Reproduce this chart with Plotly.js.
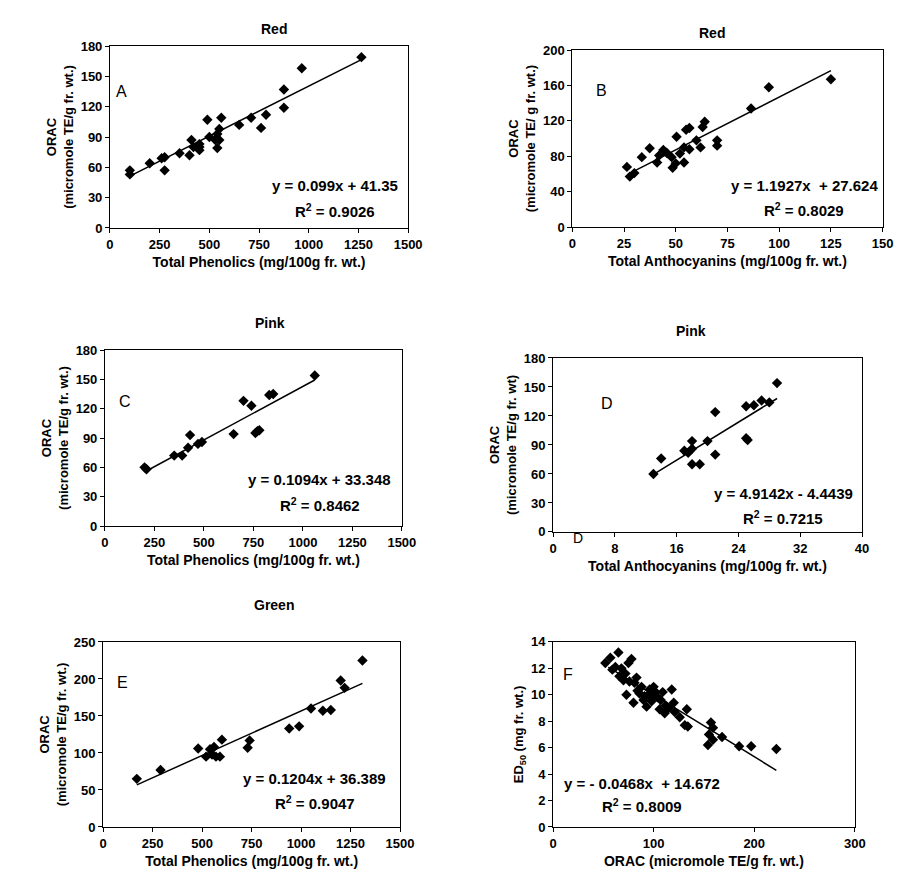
<!DOCTYPE html><html><head><script src="https://cdn.plot.ly/plotly-3.0.1.min.js"></script></head><body style="margin:0"><div id="g" style="width:897px;height:894px"></div><script>
const aX=[100,100,200,260,275,275,350,400,410,420,450,450,450,490,500,530,540,550,540,560,550,650,710,760,785,875,875,965,1265];
const aY=[57,53,64,69,70,57,74,72,87,80,83,80,77,107,90,87,93,98,79,109,87,102,109,99,112,137,119,158,169];
const bX=[26.4,27.8,30,33.6,37.4,41,42,44,45.6,48,48.5,50,50.4,52,54,54,55,56.6,56.6,60,62,63,64,70,70,86.4,95,125];
const bY=[68,57,61,79,89,73,81,87,84,79,67,72,102,83,73,90,110,112,88,98,90,113,119,98,92,134,158,167];
const cX=[200,210,350,390,420,430,470,490,650,700,740,760,770,780,830,850,1060];
const cY=[60,58,72,72,80,93,84,86,94,128,123,95,97,98,134,135,154];
const dX=[13,14,17,17.5,18,18,19,18,20,21,21,25,25.2,25,26,27,28,29];
const dY=[60,76,84,82,94,70,70,86,94,80,124,97,95,130,131,136,134,154];
const eX=[170,290,480,520,540,550,560,570,590,600,730,740,940,990,1050,1110,1150,1200,1220,1310];
const eY=[65,77,106,95,105,98,108,95,95,118,107,117,133,136,160,157,158,198,188,225];
const fX=[52,57,59,65,68,72,75,78,73,70,80,81,84,88,91,93,96,99,102,106,107,109,111,118,120,121,126,133,131,134,157,159,155,154,159,168,185,197,222,62,66,76,86,90,98,104,112,115,100,95,83];
const fY=[12.4,12.8,11.9,13.2,12.0,11.6,12.4,12.7,10.0,11.1,9.4,10.9,10.3,10.6,9.9,9.1,10.4,9.9,10.2,8.9,9.6,10.2,8.6,10.4,9.4,8.7,8.3,8.9,7.7,7.6,7.9,7.5,7.0,6.2,6.6,6.8,6.1,6.1,5.9,12.1,11.4,11.0,10.1,9.6,9.5,9.8,9.2,9.0,10.6,10.0,11.3];
const panels=[
 {x:aX,y:aY,m:0.099,b:41.35,xr:[0,1500],xd:250,yr:[0,180],yd:30,dx:[0.1226,0.455],dy:[0.745,0.9485],lab:'A',lx:60,ly:135,eq:'y = 0.099x + 41.35',ex:1130,ey:42,r2:'0.9026',ry:17,xt:'Total Phenolics (mg/100g fr. wt.)',yt:'ORAC<br>(micromole TE/g fr. wt.)',tt:'Red',l0:100,l1:1270},
 {x:bX,y:bY,m:1.1927,b:27.624,xr:[0,150],xd:25,yr:[0,200],yd:40,dx:[0.638,0.984],dy:[0.746,0.944],lab:'B',lx:14,ly:154,eq:'y = 1.1927x  + 27.624',ex:112,ey:47,r2:'0.8029',ry:20,xt:'Total Anthocyanins (mg/100g fr. wt.)',yt:'ORAC<br>(micromole TE/ g fr. wt.)',tt:'Red',l0:27,l1:125},
 {x:cX,y:cY,m:0.1094,b:33.348,xr:[0,1500],xd:250,yr:[0,180],yd:30,dx:[0.117,0.448],dy:[0.4116,0.6085],lab:'C',lx:100,ly:127,eq:'y = 0.1094x + 33.348',ex:1085,ey:48,r2:'0.8462',ry:22,xt:'Total Phenolics (mg/100g fr. wt.)',yt:'ORAC<br>(micromole TE/g fr. wt.)',tt:'Pink',l0:200,l1:1060},
 {x:dX,y:dY,m:4.9142,b:-4.4439,xr:[0,40],xd:8,yr:[0,180],yd:30,dx:[0.6165,0.961],dy:[0.405,0.5996],lab:'D',lx:7,ly:133,eq:'y = 4.9142x - 4.4439',ex:29.8,ey:40,r2:'0.7215',ry:15,xt:'Total Anthocyanins (mg/100g fr. wt.)',yt:'ORAC<br>(micromole TE/g fr. wt)',tt:'Pink',l0:13,l1:29},
 {x:eX,y:eY,m:0.1204,b:36.389,xr:[0,1500],xd:250,yr:[0,250],yd:50,dx:[0.115,0.446],dy:[0.075,0.2819],lab:'E',lx:100,ly:195,eq:'y = 0.1204x + 36.389',ex:1070,ey:65,r2:'0.9047',ry:33,xt:'Total Phenolics (mg/100g fr. wt.)',yt:'ORAC<br>(micromole TE/g fr. wt.)',tt:'Green',l0:170,l1:1310},
 {x:fX,y:fY,m:-0.0468,b:14.672,xr:[0,300],xd:100,yr:[0,14],yd:2,dx:[0.6165,0.953],dy:[0.075,0.282],lab:'F',lx:15,ly:11.5,eq:'y = - 0.0468x  + 14.672',ex:88,ey:3.3,r2:'0.8009',ry:1.6,xt:'ORAC (micromole TE/g fr. wt.)',yt:'ED<sub>50</sub> (mg fr. wt.)',tt:'',l0:55,l1:222}
];
const F='Liberation Sans, Arial, sans-serif';
const data=[],ann=[],layout={width:897,height:894,margin:{l:0,r:0,t:0,b:0},showlegend:false,paper_bgcolor:'white',plot_bgcolor:'white',font:{family:F,color:'black'},annotations:ann};
panels.forEach((p,i)=>{
 const n=i+1,xa='x'+(n>1?n:''),ya='y'+(n>1?n:'');
 data.push({x:p.x,y:p.y,xaxis:xa,yaxis:ya,mode:'markers',type:'scatter',marker:{symbol:'diamond',size:8,color:'black'}});
 data.push({x:[p.l0,p.l1],y:[p.m*p.l0+p.b,p.m*p.l1+p.b],xaxis:xa,yaxis:ya,mode:'lines',type:'scatter',line:{color:'black',width:1.5}});
 const ax={domain:p.dx,range:p.xr,dtick:p.xd,tick0:0,showgrid:false,zeroline:false,showline:true,mirror:true,linecolor:'black',linewidth:1,ticks:'outside',ticklen:4,tickcolor:'black',anchor:ya,tickfont:{size:13,family:F,weight:'bold'},title:{text:'<b>'+p.xt+'</b>',font:{size:14},standoff:6}};
 const ay={domain:p.dy,range:p.yr,dtick:p.yd,tick0:0,showgrid:false,zeroline:false,showline:true,mirror:true,linecolor:'black',linewidth:1,ticks:'outside',ticklen:4,tickcolor:'black',anchor:xa,tickfont:{size:13,family:F,weight:'bold'},title:{text:'<b>'+p.yt+'</b>',font:{size:13},standoff:4}};
 layout['xaxis'+(n>1?n:'')]=ax;layout['yaxis'+(n>1?n:'')]=ay;
 ann.push({xref:xa,yref:ya,x:p.lx,y:p.ly,text:p.lab,showarrow:false,font:{size:16}});
 ann.push({xref:xa,yref:ya,x:p.ex,y:p.ey,text:'<b>'+p.eq+'</b>',showarrow:false,font:{size:15}});
 ann.push({xref:xa,yref:ya,x:p.ex,y:p.ry,text:'<b>R<sup>2</sup> = '+p.r2+'</b>',showarrow:false,font:{size:15}});
 if(p.tt) ann.push({xref:'paper',yref:'paper',x:(p.dx[0]+p.dx[1])/2,y:p.dy[1]+0.03,text:'<b>'+p.tt+'</b>',showarrow:false,font:{size:14}});
});
ann.push({xref:'paper',yref:'paper',x:0.644,y:0.398,text:'D',showarrow:false,font:{size:14}});
Plotly.newPlot('g',data,layout,{staticPlot:true});
</script></body></html>
